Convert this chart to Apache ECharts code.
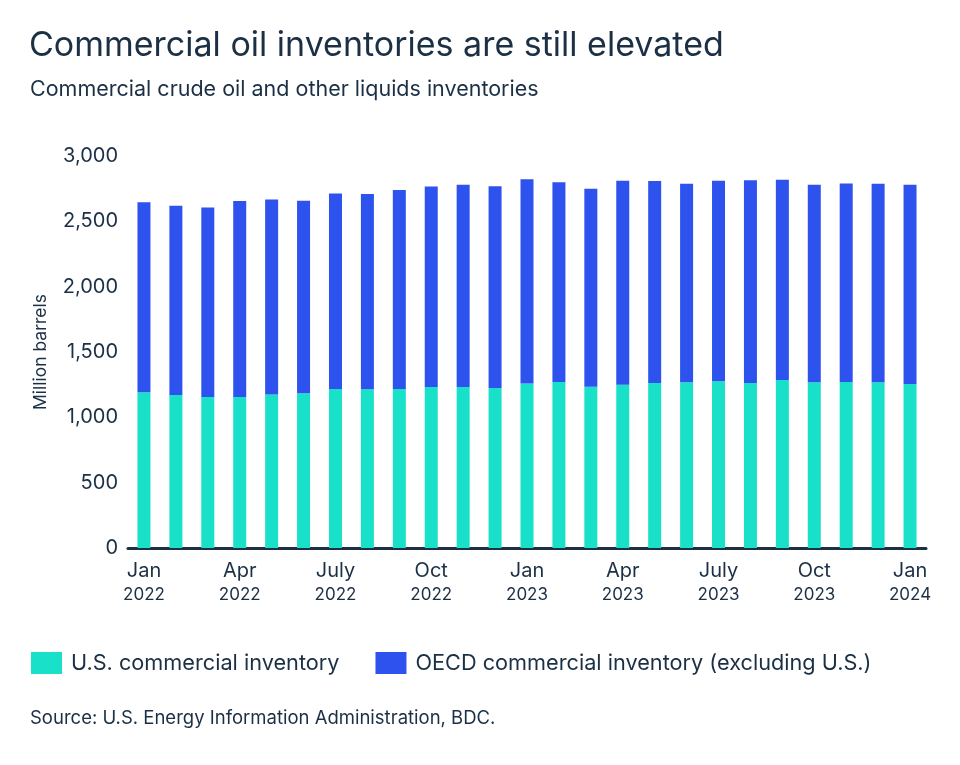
<!DOCTYPE html>
<html>
<head>
<meta charset="utf-8">
<script src="https://cdn.jsdelivr.net/npm/echarts@6/dist/echarts.min.js"></script>
<style>
html,body{margin:0;padding:0;background:#fff;}
#chart{width:960px;height:765px;}
</style>
</head>
<body>
<div id="chart"></div>
<script>
const categories = ['Jan 2022','Feb 2022','Mar 2022','Apr 2022','May 2022','Jun 2022','July 2022','Aug 2022','Sep 2022','Oct 2022','Nov 2022','Dec 2022',
  'Jan 2023','Feb 2023','Mar 2023','Apr 2023','May 2023','Jun 2023','July 2023','Aug 2023','Sep 2023','Oct 2023','Nov 2023','Dec 2023','Jan 2024'];
const usInventory = [1192,1171,1156,1156,1174,1184,1217,1215,1217,1233,1233,1225,1258,1271,1235,1250,1263,1269,1276,1263,1286,1269,1271,1269,1256];
const totalInventory = [2647,2619,2606,2655,2667,2657,2713,2710,2739,2767,2780,2769,2823,2800,2749,2810,2808,2787,2810,2815,2818,2780,2790,2787,2780];
const oecdExUS = totalInventory.map((t,i)=>t-usInventory[i]);
const yTicks = [0,500,1000,1500,2000,2500,3000];

const FONT = 'Inter';
const TXT = '#1b2f45';
const chart = echarts.init(document.getElementById('chart'), null, {renderer:'canvas'});
chart.setOption({
  backgroundColor:'#fff',
  animation:false,
  textStyle:{fontFamily:FONT,color:TXT},
  title:[
    {text:'Commercial oil inventories are still elevated',left:29,top:29,padding:0,
     textStyle:{fontFamily:FONT,fontSize:34,fontWeight:'normal',color:TXT}},
    {text:'Commercial crude oil and other liquids inventories',left:30,top:79,padding:0,
     textStyle:{fontFamily:FONT,fontSize:21.5,fontWeight:'normal',color:TXT}},
    {text:'Source: U.S. Energy Information Administration, BDC.',left:30,top:709,padding:0,
     textStyle:{fontFamily:FONT,fontSize:18.5,fontWeight:'normal',color:TXT}}
  ],
  legend:{
    left:31,top:652,padding:0,itemWidth:31,itemHeight:22,itemGap:36,
    icon:'rect',
    textStyle:{fontFamily:FONT,fontSize:21.7,color:TXT,padding:[2,0,0,4]},
    data:['U.S. commercial inventory','OECD commercial inventory (excluding U.S.)']
  },
  grid:{left:128,right:34,top:156,bottom:217,containLabel:false},
  xAxis:{
    type:'category',data:categories,
    axisLine:{lineStyle:{color:TXT,width:3}},
    axisTick:{show:false},
    axisLabel:{
      interval:2,margin:11,
      formatter:function(v){const p=v.split(' ');return '{m|'+p[0]+'}\n{y|'+p[1]+'}';},
      rich:{m:{fontFamily:FONT,fontSize:20,color:TXT,lineHeight:24},
            y:{fontFamily:FONT,fontSize:17,color:TXT,lineHeight:24}}
    }
  },
  yAxis:{
    type:'value',min:0,max:3000,interval:500,
    name:'Million barrels',nameLocation:'middle',nameGap:78,nameRotate:90,
    nameTextStyle:{fontFamily:FONT,fontSize:17.5,color:TXT},
    axisLine:{show:false},axisTick:{show:false},splitLine:{show:false},
    axisLabel:{margin:10,fontFamily:FONT,fontSize:20,color:TXT,
      formatter:v=>v.toLocaleString('en-US')}
  },
  series:[
    {name:'U.S. commercial inventory',type:'bar',stack:'total',barWidth:13,
     itemStyle:{color:'#19e0c8'},data:usInventory},
    {name:'OECD commercial inventory (excluding U.S.)',type:'bar',stack:'total',barWidth:13,
     itemStyle:{color:'#2d52ee'},data:oecdExUS}
  ]
});
</script>
</body>
</html>
